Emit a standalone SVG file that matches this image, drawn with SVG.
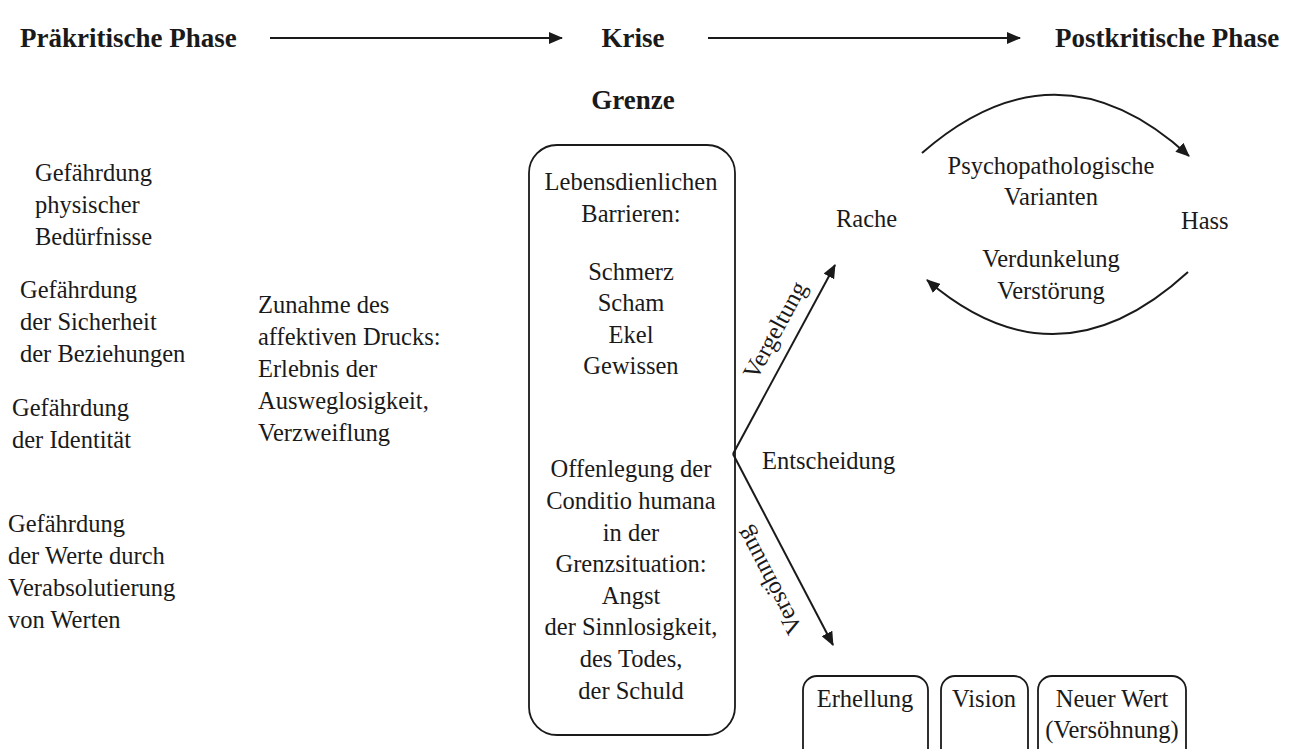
<svg xmlns="http://www.w3.org/2000/svg" width="1292" height="749" viewBox="0 0 1292 749">
<defs>
<style>
text{font-family:"Liberation Serif","Times New Roman",serif;font-size:24.5px;fill:#1a1a1a}
.h{font-weight:bold;font-size:27px}
.c{text-anchor:middle}
.ln{stroke:#1a1a1a;stroke-width:2;fill:none}
.bx{stroke:#1a1a1a;stroke-width:1.8;fill:none}
</style>
<marker id="ah" viewBox="0 0 14 12" refX="13" refY="6" markerWidth="14" markerHeight="12" markerUnits="userSpaceOnUse" orient="auto">
<path d="M0,0 L14,6 L0,12 z" fill="#1a1a1a"/>
</marker>
</defs>
<rect width="1292" height="749" fill="#fff"/>

<g id="header">
<text class="h" x="20" y="47">Präkritische Phase</text>
<text class="h c" x="633" y="47">Krise</text>
<text class="h" x="1055" y="47">Postkritische Phase</text>
<text class="h c" x="633" y="109">Grenze</text>
</g>

<g id="left">
<text x="35" y="181">Gefährdung</text>
<text x="35" y="213">physischer</text>
<text x="35" y="245">Bedürfnisse</text>
<text x="20" y="298">Gefährdung</text>
<text x="20" y="330">der Sicherheit</text>
<text x="20" y="362">der Beziehungen</text>
<text x="12" y="416">Gefährdung</text>
<text x="12" y="448">der Identität</text>
<text x="8" y="532">Gefährdung</text>
<text x="8" y="564">der Werte durch</text>
<text x="8" y="596">Verabsolutierung</text>
<text x="8" y="628">von Werten</text>
</g>

<g id="middle">
<text x="258" y="313">Zunahme des</text>
<text x="258" y="345">affektiven Drucks:</text>
<text x="258" y="377">Erlebnis der</text>
<text x="258" y="409">Ausweglosigkeit,</text>
<text x="258" y="441">Verzweiflung</text>
</g>

<g id="grenze">
<rect class="bx" x="529" y="145" width="206" height="590" rx="28"/>
<text class="c" x="631" y="190">Lebensdienlichen</text>
<text class="c" x="631" y="222">Barrieren:</text>
<text class="c" x="631" y="280">Schmerz</text>
<text class="c" x="631" y="311">Scham</text>
<text class="c" x="631" y="343">Ekel</text>
<text class="c" x="631" y="374">Gewissen</text>
<text class="c" x="631" y="477">Offenlegung der</text>
<text class="c" x="631" y="509">Conditio humana</text>
<text class="c" x="631" y="541">in der</text>
<text class="c" x="631" y="572">Grenzsituation:</text>
<text class="c" x="631" y="604">Angst</text>
<text class="c" x="631" y="635">der Sinnlosigkeit,</text>
<text class="c" x="631" y="667">des Todes,</text>
<text class="c" x="631" y="699">der Schuld</text>
</g>

<g id="cycle">
<text x="836" y="227">Rache</text>
<text x="1181" y="229">Hass</text>
<text class="c" x="1051" y="174">Psychopathologische</text>
<text class="c" x="1051" y="205">Varianten</text>
<text class="c" x="1051" y="267">Verdunkelung</text>
<text class="c" x="1051" y="299">Verstörung</text>
</g>

<g id="decision">
<text x="762" y="469">Entscheidung</text>
<text class="c" transform="translate(782,334) rotate(-61.6)">Vergeltung</text>
<text class="c" transform="translate(776,577) rotate(-117.5)">Versöhnung</text>
</g>

<g id="outcomes">
<rect class="bx" x="803" y="676" width="125" height="90" rx="14"/>
<text class="c" x="865" y="707">Erhellung</text>
<rect class="bx" x="941" y="676" width="87" height="90" rx="14"/>
<text class="c" x="984" y="707">Vision</text>
<rect class="bx" x="1038" y="676" width="148" height="90" rx="14"/>
<text class="c" x="1112" y="707">Neuer Wert</text>
<text class="c" x="1112" y="738">(Versöhnung)</text>
</g>

<g id="connectors">
<line class="ln" x1="270" y1="38" x2="562" y2="38" marker-end="url(#ah)"/>
<line class="ln" x1="708" y1="38" x2="1020" y2="38" marker-end="url(#ah)"/>
<line class="ln" x1="733" y1="454" x2="835" y2="265" marker-end="url(#ah)"/>
<line class="ln" x1="733" y1="454" x2="833" y2="645" marker-end="url(#ah)"/>
<path class="ln" d="M922,153 Q1057,35 1189,156" marker-end="url(#ah)"/>
<path class="ln" d="M1188,272 Q1057,392 927,280" marker-end="url(#ah)"/>
</g>
</svg>
